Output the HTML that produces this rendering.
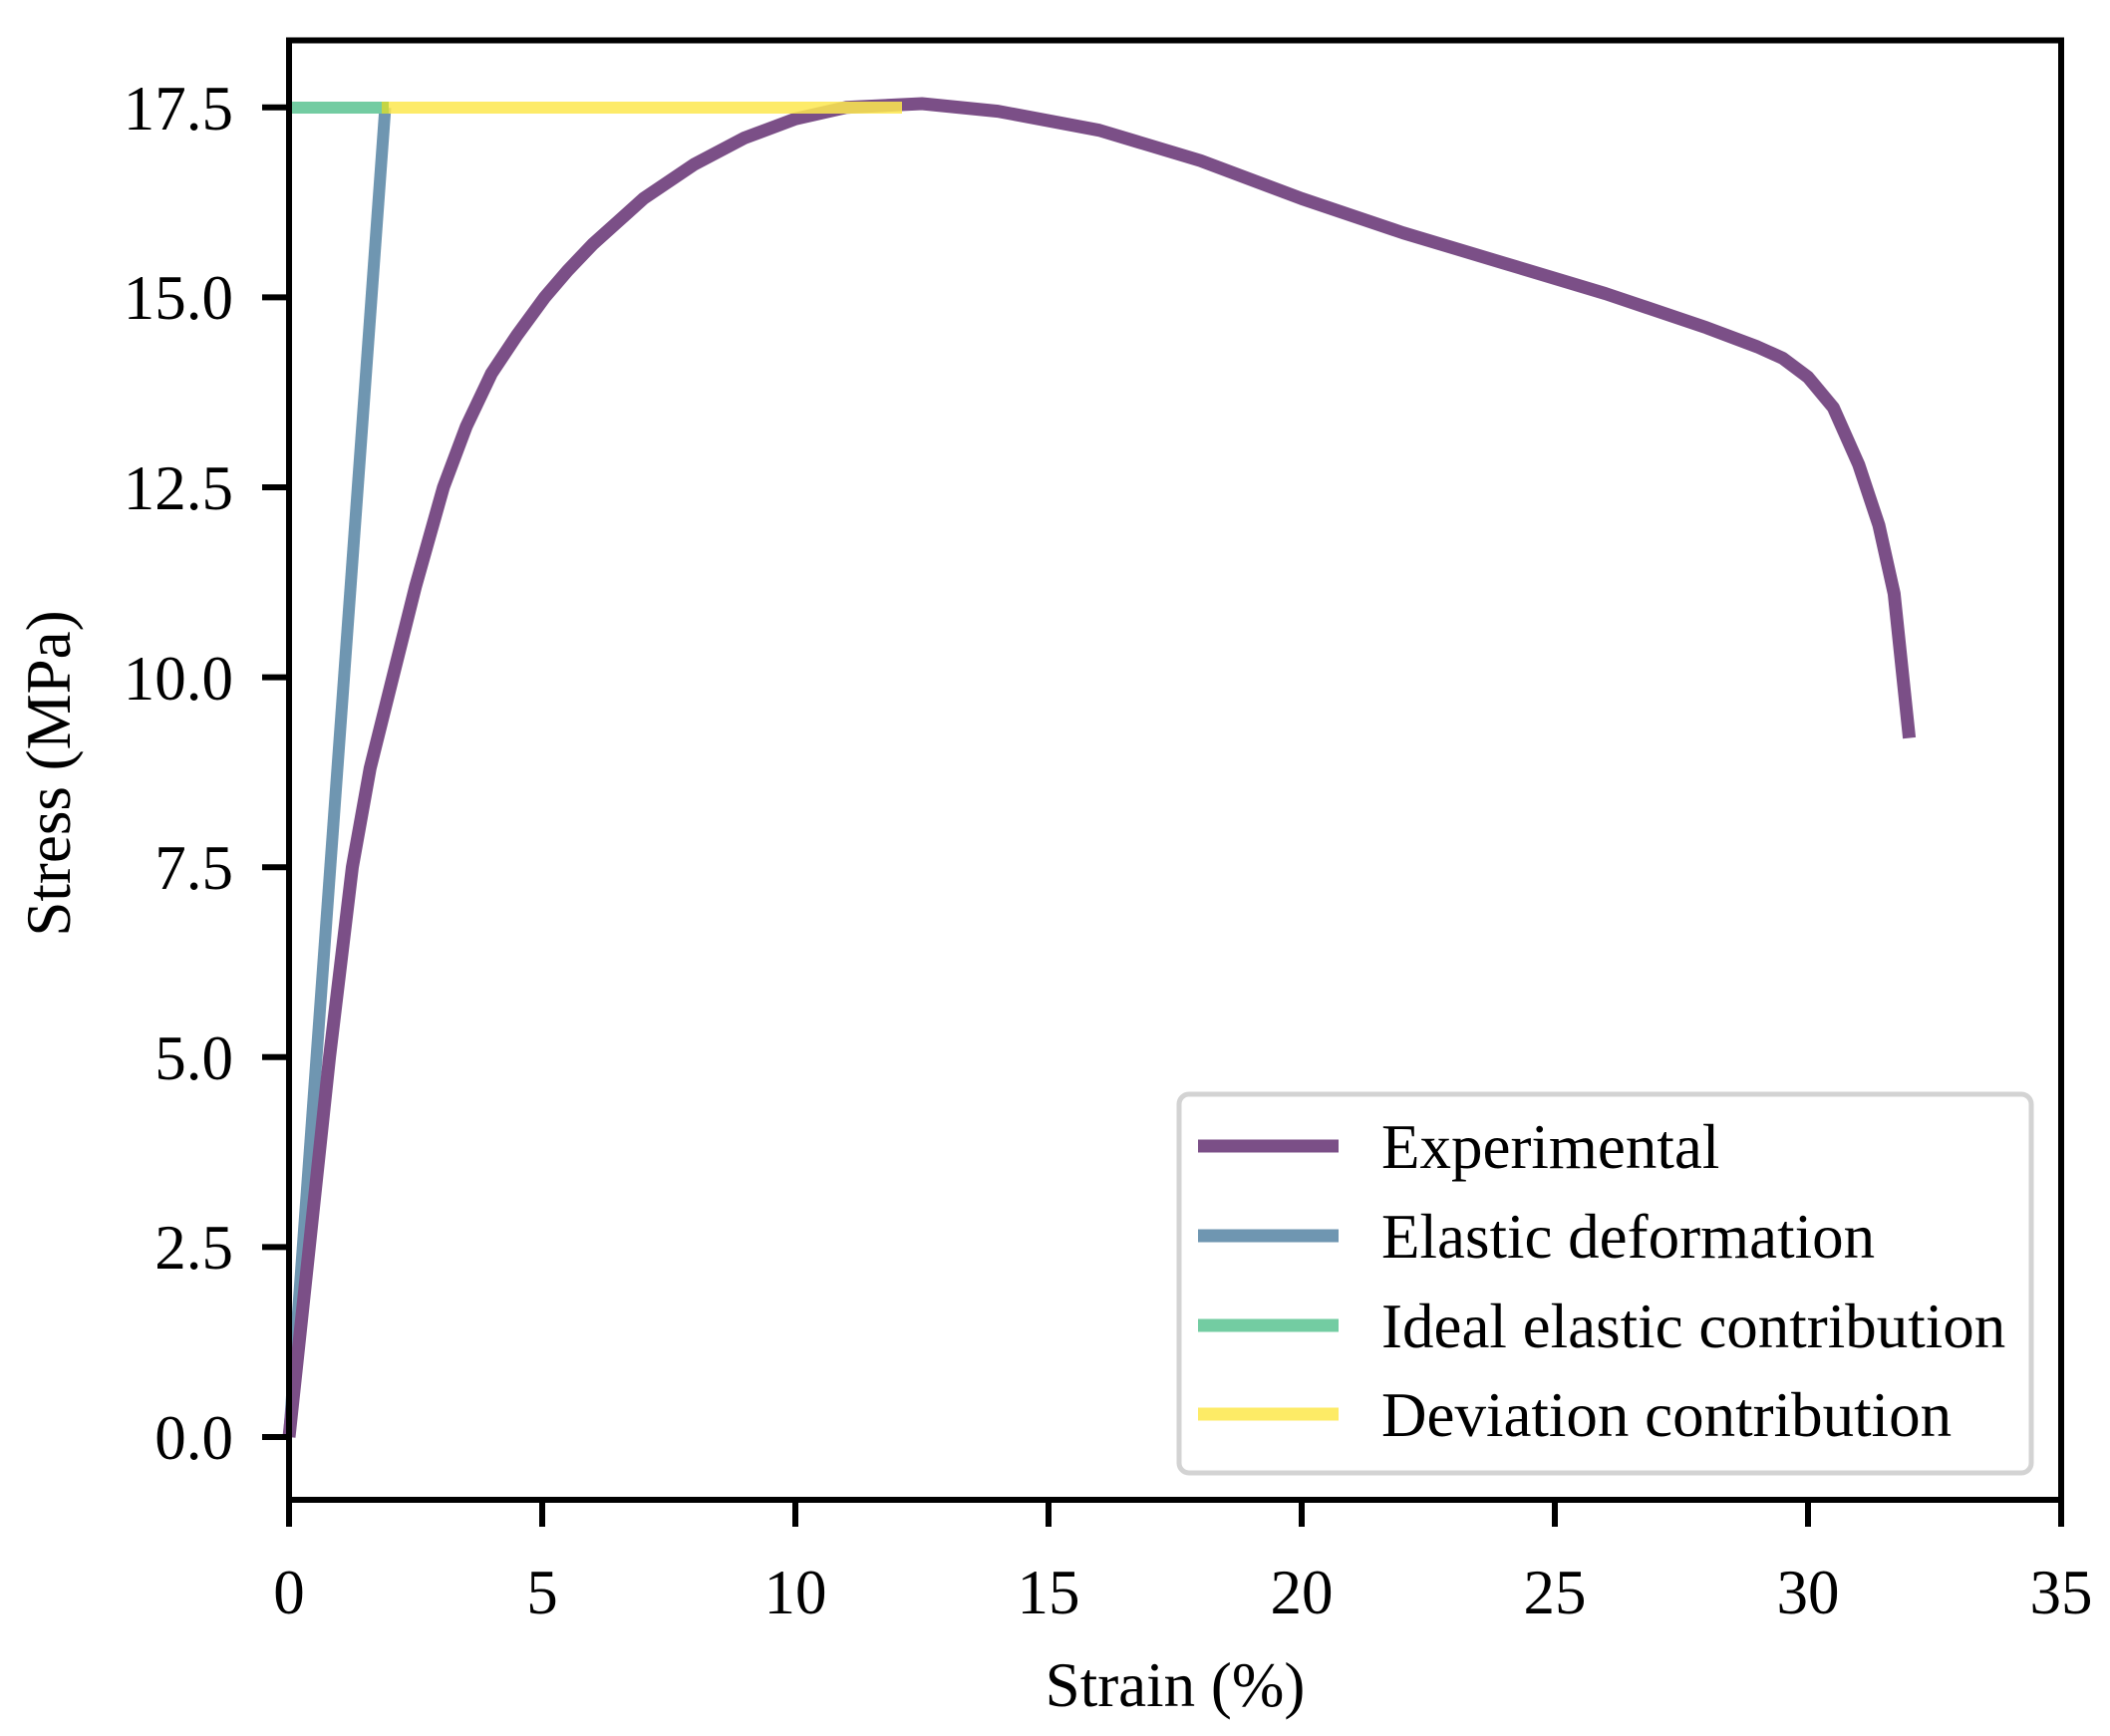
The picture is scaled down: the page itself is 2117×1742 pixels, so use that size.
<!DOCTYPE html>
<html><head><meta charset="utf-8"><style>html,body{margin:0;padding:0;background:#fff}svg{display:block}</style></head>
<body>
<svg width="2117" height="1742" viewBox="0 0 2117 1742" xmlns="http://www.w3.org/2000/svg" font-family="Liberation Serif, serif">
<rect width="2117" height="1742" fill="#fff"/>
<g fill="none" stroke-linejoin="round" stroke-linecap="butt">
<polyline stroke="#6f96b1" stroke-width="12" points="290,1442 386.5,108"/>
<line x1="290" y1="108" x2="386.5" y2="108" stroke="#73cca2" stroke-width="12"/>
<polyline stroke="#7b4f87" stroke-width="13" points="290,1442 310.3,1251.4 330.6,1060.8 353.5,870.2 371.3,771.1 394.1,679.6 417,588.1 444.9,489 467.8,428 493.2,374.6 518.6,336.5 546.5,298.4 569.4,271.7 594.8,245 620.2,222.2 645.6,199.3 696.4,165 747.2,138.3 798,119.3 848.8,107.8 925,104 1001.2,111.6 1102.8,130.7 1204.4,161.2 1306,199.3 1407.6,233.6 1509.2,264.1 1610.8,294.6 1712.4,328.9 1763.2,348 1788.6,359.4 1814,378.5 1839.4,409 1864.8,466.1 1885.1,527.1 1900.4,595.7 1915.6,740.6"/>
<line x1="386.5" y1="108" x2="905" y2="108" stroke="#fde84f" stroke-opacity="0.85" stroke-width="12"/>
<line x1="383" y1="108" x2="390" y2="108" stroke="#c5d545" stroke-width="12"/>
</g>
<rect x="290" y="40.5" width="1778" height="1464.5" fill="none" stroke="#000" stroke-width="6"/>
<g stroke="#000" stroke-width="6">
<line x1="290" y1="1505" x2="290" y2="1532"/><line x1="544" y1="1505" x2="544" y2="1532"/><line x1="798" y1="1505" x2="798" y2="1532"/><line x1="1052" y1="1505" x2="1052" y2="1532"/><line x1="1306" y1="1505" x2="1306" y2="1532"/><line x1="1560" y1="1505" x2="1560" y2="1532"/><line x1="1814" y1="1505" x2="1814" y2="1532"/><line x1="2068" y1="1505" x2="2068" y2="1532"/>
<line x1="263" y1="1442" x2="290" y2="1442"/><line x1="263" y1="1251.4" x2="290" y2="1251.4"/><line x1="263" y1="1060.8" x2="290" y2="1060.8"/><line x1="263" y1="870.2" x2="290" y2="870.2"/><line x1="263" y1="679.6" x2="290" y2="679.6"/><line x1="263" y1="489" x2="290" y2="489"/><line x1="263" y1="298.4" x2="290" y2="298.4"/><line x1="263" y1="107.8" x2="290" y2="107.8"/>
</g>
<g font-size="63" fill="#000" text-anchor="middle">
<text x="290" y="1619">0</text><text x="544" y="1619">5</text><text x="798" y="1619">10</text><text x="1052" y="1619">15</text><text x="1306" y="1619">20</text><text x="1560" y="1619">25</text><text x="1814" y="1619">30</text><text x="2068" y="1619">35</text>
</g>
<g font-size="63" fill="#000" text-anchor="end">
<text x="234" y="1464">0.0</text><text x="234" y="1273">2.5</text><text x="234" y="1083">5.0</text><text x="234" y="892">7.5</text><text x="234" y="702">10.0</text><text x="234" y="511">12.5</text><text x="234" y="320">15.0</text><text x="234" y="130">17.5</text>
</g>
<text x="1179" y="1712" font-size="63" text-anchor="middle">Strain (%)</text>
<text transform="translate(70,776) rotate(-90)" font-size="63" text-anchor="middle">Stress (MPa)</text>
<rect x="1183" y="1098" width="855" height="380" rx="10" fill="#fff" stroke="#d3d3d3" stroke-width="5"/>
<g stroke-width="13">
<line x1="1202" y1="1150" x2="1343" y2="1150" stroke="#7b4f87"/>
<line x1="1202" y1="1240" x2="1343" y2="1240" stroke="#6f96b1"/>
<line x1="1202" y1="1330" x2="1343" y2="1330" stroke="#73cca2"/>
<line x1="1202" y1="1419" x2="1343" y2="1419" stroke="#fdeb66"/>
</g>
<g font-size="63" fill="#000">
<text x="1386" y="1172">Experimental</text>
<text x="1386" y="1262">Elastic deformation</text>
<text x="1386" y="1352">Ideal elastic contribution</text>
<text x="1386" y="1441">Deviation contribution</text>
</g>
</svg>
</body></html>
